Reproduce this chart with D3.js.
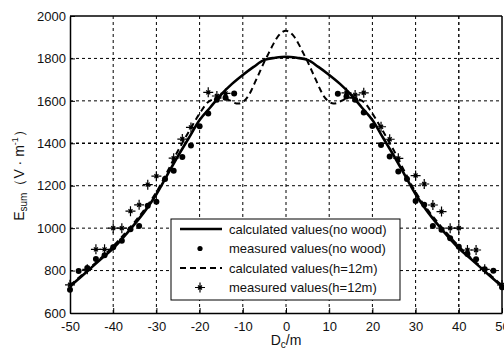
<!DOCTYPE html>
<html><head><meta charset="utf-8">
<script src="https://cdn.jsdelivr.net/npm/d3@7"></script>
<style>body{margin:0;background:#fff}svg{display:block}text{font-family:Arial,"Liberation Sans",sans-serif;fill:#111}</style>
</head><body><svg id="c" width="504" height="349"></svg>
<script>
const xTicks=[-50,-40,-30,-20,-10,0,10,20,30,40,50];
const yTicks=[600,800,1000,1200,1400,1600,1800,2000];
// calculated values (no wood)
const calcNoWoodX=[-50,-47.5,-45,-42.5,-40,-37.5,-35,-32.5,-30,-27.5,-25,-22.5,-20,-17.5,-15,-12.5,-10,-7.5,-5,-2.5,0,2.5,5,7.5,10,12.5,15,17.5,20,22.5,25,27.5,30,32.5,35,37.5,40,42.5,45,47.5,50];
const calcNoWoodY=[725,770,815,860,905,960,1020,1085,1160,1250,1340,1425,1510,1570,1630,1680,1722,1760,1793,1803,1808,1803,1793,1760,1722,1680,1630,1570,1510,1425,1340,1250,1160,1085,1020,960,905,860,815,770,725];
// calculated values (h=12m)
const calcH12X=[-50,-47.5,-45,-42.5,-40,-37.5,-35,-32.5,-30,-27.5,-25,-22.5,-20,-18,-17,-16,-15,-14,-13,-12,-11,-10,-9,-8,-7,-6,-5,-4,-3,-2,-1,0,1,2,3,4,5,6,7,8,9,10,11,12,13,14,15,16,17,18,20,22.5,25,27.5,30,32.5,35,37.5,40,42.5,45,47.5,50];
const calcH12Y=[730,775,820,865,915,970,1030,1095,1170,1265,1365,1455,1540,1595,1606,1613,1615,1612,1602,1591,1587,1595,1615,1650,1695,1740,1785,1825,1865,1900,1922,1930,1922,1900,1865,1825,1785,1740,1695,1650,1615,1595,1587,1591,1602,1612,1615,1613,1606,1595,1540,1455,1365,1265,1170,1095,1030,970,915,865,820,775,730];
// measured values (no wood)
const measNoWoodX=[-50,-48,-46,-44,-42,-40,-38,-36,-34,-32,-30,-28,-26,-24,-22,-20,-18,-16,-14,-12,12,14,16,18,20,22,24,26,28,30,32,34,36,38,40,42,44,46,48,50];
const measNoWoodY=[710,798,812,855,872,910,940,995,1010,1105,1125,1232,1270,1335,1390,1480,1540,1605,1615,1635,1633,1620,1605,1545,1482,1392,1338,1267,1232,1128,1110,1010,993,952,912,878,853,806,799,721];
// measured values (h=12m)
const measH12X=[-50,-46,-44,-42,-40,-38,-36,-34,-32,-30,-26,-24,-22,-18,-16,-14,14,16,18,22,24,26,30,32,34,36,38,40,42,44,46,50];
const measH12Y=[733,806,900,900,1000,1000,1080,1110,1205,1245,1330,1420,1475,1640,1623,1635,1638,1628,1638,1478,1419,1329,1248,1208,1109,1078,1000,1000,897,897,806,732];
const legendLabels=["calculated values(no wood)","measured values(no wood)","calculated values(h=12m)","measured values(h=12m)"];

const svg=d3.select("#c");
const L=70,R=502,T=16,B=313;
const x=d3.scaleLinear().domain([-50,50]).range([L,R]);
const y=d3.scaleLinear().domain([600,2000]).range([B,T]);

// grid
const g=svg.append("g");
g.selectAll(".gx").data(xTicks.slice(1,-1)).enter().append("line")
 .attr("x1",d=>x(d)).attr("x2",d=>x(d)).attr("y1",T).attr("y2",B)
 .attr("stroke","#000").attr("stroke-width",d=>d===40?1.4:1).attr("stroke-dasharray","3,3");
g.selectAll(".gy").data(yTicks.slice(1,-1)).enter().append("line")
 .attr("y1",d=>y(d)).attr("y2",d=>y(d)).attr("x1",L).attr("x2",R)
 .attr("stroke","#000").attr("stroke-width",d=>d===1400?1.4:1).attr("stroke-dasharray","3,3");

// axes
const fmt=d=>String(d);
const xa=svg.append("g").attr("transform",`translate(0,${B})`)
 .call(d3.axisBottom(x).tickValues(xTicks).tickFormat(fmt).tickSizeInner(-5).tickSizeOuter(0).tickPadding(9));
const ya=svg.append("g").attr("transform",`translate(${L},0)`)
 .call(d3.axisLeft(y).tickValues(yTicks).tickFormat(fmt).tickSizeInner(-5).tickSizeOuter(0).tickPadding(4));
[xa,ya].forEach(a=>{a.select(".domain").attr("stroke","#000").attr("stroke-width",1.5);
 a.selectAll(".tick line").attr("stroke","#000");
 a.selectAll("text").attr("font-size",13).attr("fill","#111").attr("font-family","Arial, 'Liberation Sans', sans-serif");});
// top and right border
svg.append("line").attr("x1",L).attr("x2",R).attr("y1",T).attr("y2",T).attr("stroke","#000").attr("stroke-width",1.5);
svg.append("line").attr("x1",R).attr("x2",R).attr("y1",T).attr("y2",B).attr("stroke","#000").attr("stroke-width",1.5);

const line=d3.line().x(d=>x(d[0])).y(d=>y(d[1])).curve(d3.curveMonotoneX);
const clip=svg.append("g");
clip.append("path").datum(calcNoWoodX.map((v,i)=>[v,calcNoWoodY[i]]))
 .attr("d",line).attr("fill","none").attr("stroke","#000").attr("stroke-width",2.6);
clip.append("path").datum(calcH12X.map((v,i)=>[v,calcH12Y[i]]))
 .attr("d",line).attr("fill","none").attr("stroke","#000").attr("stroke-width",2).attr("stroke-dasharray","6,4");

function star(sel,cx,cy){
 const a=5,b=2;
 sel.append("path").attr("d",`M${cx-a},${cy}H${cx+a}M${cx},${cy-a}V${cy+a}M${cx-b},${cy-b}L${cx+b},${cy+b}M${cx-b},${cy+b}L${cx+b},${cy-b}`)
  .attr("stroke","#000").attr("stroke-width",1.2).attr("fill","none");
}
svg.append("g").selectAll("circle").data(measNoWoodX.map((v,i)=>[v,measNoWoodY[i]])).enter().append("circle")
 .attr("cx",d=>x(d[0])).attr("cy",d=>y(d[1])).attr("r",3).attr("fill","#000");
const sg=svg.append("g");
measH12X.forEach((v,i)=>star(sg,x(v),y(measH12Y[i])));

// legend
const lg=svg.append("g");
lg.append("rect").attr("x",171).attr("y",219).attr("width",229).attr("height",81).attr("fill","#fff").attr("stroke","#000").attr("stroke-width",1);
const rows=[229,248.5,268,287.5];
lg.append("line").attr("x1",180).attr("x2",222).attr("y1",rows[0]).attr("y2",rows[0]).attr("stroke","#000").attr("stroke-width",2.6);
lg.append("circle").attr("cx",200).attr("cy",rows[1]).attr("r",2.6).attr("fill","#000");
lg.append("line").attr("x1",180).attr("x2",222).attr("y1",rows[2]).attr("y2",rows[2]).attr("stroke","#000").attr("stroke-width",2).attr("stroke-dasharray","6,4");
star(lg,200,rows[3]);
lg.selectAll("text.l").data(legendLabels).enter().append("text")
 .attr("x",229).attr("y",(d,i)=>rows[i]).attr("dy","0.35em").attr("font-size",13).text(d=>d);

// axis titles
const xt=svg.append("text").attr("x",286).attr("y",345).attr("text-anchor","middle").attr("font-size",14);
xt.append("tspan").text("D");
xt.append("tspan").attr("font-size",10).attr("dy",3).text("c");
xt.append("tspan").attr("dy",-3).text("/m");
const yt=svg.append("text").attr("transform","translate(24,172) rotate(-90)").attr("text-anchor","middle").attr("font-size",14);
yt.append("tspan").text("E");
yt.append("tspan").attr("font-size",10).attr("dy",3).text("sum");
yt.append("tspan").attr("dy",-3).text("（V · m");
yt.append("tspan").attr("font-size",9).attr("dy",-6).text("-1");
yt.append("tspan").attr("dy",6).text("）");
</script></body></html>
